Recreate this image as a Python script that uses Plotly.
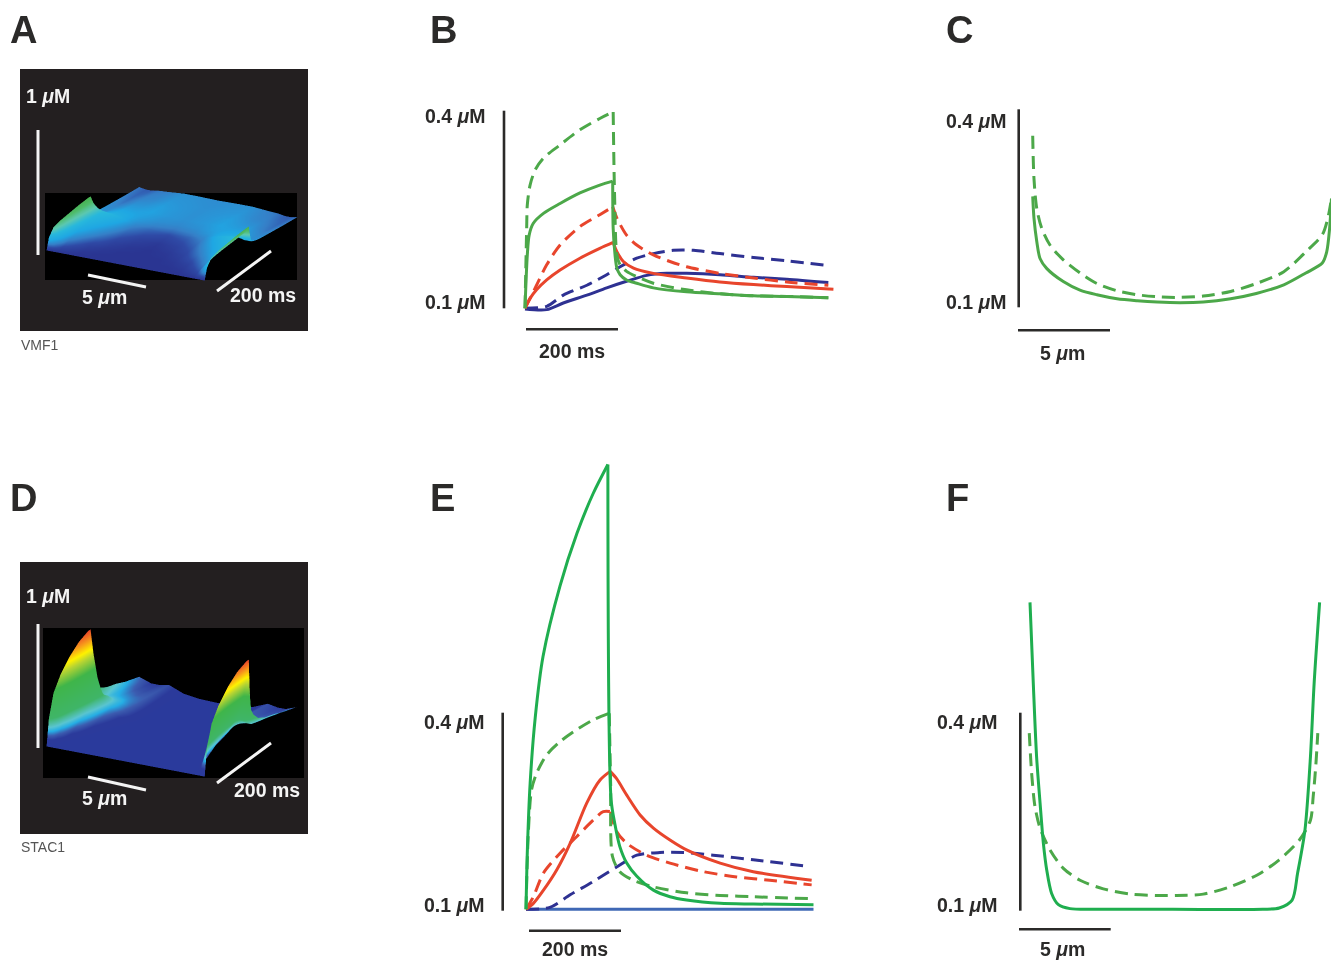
import math
import plotly.graph_objects as go

W, H = 1331, 961
INK = "#2b2a29"
GREEN = "#4ca849"
GREEN_E = "#1fae4f"
RED = "#e8452c"
NAVY = "#2e3192"
ROYAL = "#3f68b5"
DASH = "13px,7px"

# ---------- panel B: concentration (uM) versus time (ms) ----------
b_green_dash_t = [0, 3.6, 5, 11, 22, 40, 76, 119, 162, 191, 194, 199, 206, 220, 242, 278, 350, 422, 495, 567, 657]
b_green_dash_c = [0.1, 0.221, 0.257, 0.287, 0.310, 0.328, 0.348, 0.371, 0.388, 0.398, 0.272, 0.181, 0.166, 0.156, 0.148, 0.138, 0.128, 0.122, 0.119, 0.118, 0.116]
b_green_t = [0, 5, 9, 18, 40, 76, 119, 162, 190, 191, 195, 199, 206, 220, 242, 278, 350, 422, 495, 567, 657]
b_green_c = [0.1, 0.181, 0.211, 0.229, 0.244, 0.259, 0.275, 0.287, 0.293, 0.221, 0.181, 0.161, 0.151, 0.143, 0.138, 0.131, 0.125, 0.122, 0.119, 0.118, 0.116]
b_red_dash_t = [0, 11, 25, 47, 76, 119, 162, 190, 199, 220, 242, 278, 314, 350, 422, 495, 567, 657]
b_red_dash_c = [0.1, 0.115, 0.135, 0.166, 0.196, 0.224, 0.242, 0.254, 0.237, 0.211, 0.196, 0.181, 0.171, 0.163, 0.153, 0.146, 0.140, 0.135]
b_red_t = [0, 11, 25, 47, 76, 119, 162, 191, 199, 213, 235, 278, 350, 422, 495, 567, 668]
b_red_c = [0.1, 0.115, 0.128, 0.143, 0.158, 0.176, 0.191, 0.200, 0.186, 0.171, 0.161, 0.153, 0.146, 0.140, 0.136, 0.133, 0.129]
b_blue_dash_t = [0, 47, 83, 134, 177, 206, 242, 278, 321, 365, 422, 495, 567, 657]
b_blue_dash_c = [0.1, 0.103, 0.120, 0.135, 0.151, 0.163, 0.176, 0.183, 0.188, 0.188, 0.183, 0.177, 0.172, 0.165]
b_blue_t = [0, 47, 83, 134, 177, 220, 264, 307, 350, 422, 495, 567, 657]
b_blue_c = [0.099, 0.098, 0.108, 0.120, 0.131, 0.141, 0.150, 0.153, 0.153, 0.151, 0.147, 0.144, 0.139]

# ---------- panel E ----------
e_green_t = [0, 3, 9, 20, 37, 74, 111, 146, 178, 185, 193, 204, 219, 241, 277, 313, 349, 422, 494, 625]
e_green_c = [0.1, 0.19, 0.291, 0.39, 0.483, 0.59, 0.67, 0.73, 0.774, 0.266, 0.23, 0.195, 0.17, 0.15, 0.129, 0.119, 0.114, 0.109, 0.108, 0.107]
e_green_dash_t = [0, 5, 12, 23, 45, 74, 110, 146, 181, 184, 188, 204, 233, 277, 349, 422, 494, 621]
e_green_dash_c = [0.1, 0.215, 0.281, 0.306, 0.334, 0.354, 0.372, 0.387, 0.397, 0.291, 0.18, 0.157, 0.144, 0.134, 0.125, 0.121, 0.119, 0.116]
e_red_t = [0, 16, 38, 67, 96, 132, 161, 183, 197, 219, 248, 277, 313, 349, 422, 494, 621]
e_red_c = [0.1, 0.109, 0.129, 0.16, 0.2, 0.261, 0.296, 0.309, 0.298, 0.273, 0.243, 0.223, 0.205, 0.19, 0.17, 0.157, 0.144]
e_red_dash_t = [0, 16, 38, 74, 110, 146, 168, 184, 197, 219, 262, 313, 386, 458, 530, 621]
e_red_dash_c = [0.1, 0.119, 0.155, 0.185, 0.21, 0.235, 0.248, 0.248, 0.218, 0.2, 0.182, 0.17, 0.157, 0.149, 0.144, 0.137]
e_blue_dash_t = [0, 52, 96, 146, 204, 241, 291, 342, 407, 494, 614]
e_blue_dash_c = [0.1, 0.103, 0.122, 0.142, 0.167, 0.182, 0.186, 0.186, 0.182, 0.175, 0.165]
e_blue_t = [0, 625]
e_blue_c = [0.1, 0.1]

# ---------- panel C: concentration (uM) versus distance (um) ----------
c_solid_x = [0, 0.07, 0.22, 0.4, 0.76, 1.67, 2.58, 3.5, 4.6, 5.7, 6.8, 8.04, 9.3, 10.8, 12.2, 13.7, 14.9, 15.8, 16.04, 16.2, 16.3]
c_solid_c = [0.268, 0.235, 0.2, 0.174, 0.159, 0.139, 0.126, 0.119, 0.113, 0.11, 0.108, 0.107, 0.108, 0.113, 0.121, 0.134, 0.152, 0.167, 0.184, 0.22, 0.265]
c_dash_x = [0, 0.07, 0.22, 0.49, 0.95, 1.67, 2.58, 3.5, 4.6, 5.7, 6.8, 8.04, 9.3, 10.8, 12.2, 13.7, 14.9, 15.8, 16.1, 16.3]
c_dash_c = [0.36, 0.295, 0.25, 0.22, 0.194, 0.172, 0.152, 0.136, 0.125, 0.119, 0.116, 0.115, 0.117, 0.124, 0.136, 0.154, 0.184, 0.21, 0.235, 0.265]

# ---------- panel F ----------
f_solid_x = [0, 0.18, 0.36, 0.55, 0.73, 0.91, 1.18, 1.55, 2.18, 3.64, 7.8, 12.7, 13.6, 14.3, 14.6, 15, 15.3, 15.5, 15.8]
f_solid_c = [0.565, 0.442, 0.331, 0.261, 0.2, 0.16, 0.124, 0.107, 0.101, 0.1, 0.1, 0.1, 0.102, 0.114, 0.155, 0.22, 0.331, 0.442, 0.565]
f_dash_x = [-0.04, 0.09, 0.27, 0.55, 1.09, 1.82, 2.73, 4, 5.45, 6.9, 8, 9.45, 10.9, 12.4, 13.6, 14.7, 15.3, 15.45, 15.6, 15.7]
f_dash_c = [0.367, 0.306, 0.256, 0.223, 0.19, 0.162, 0.144, 0.131, 0.123, 0.121, 0.121, 0.123, 0.134, 0.152, 0.175, 0.205, 0.235, 0.271, 0.321, 0.367]

# ---------- panels A and D: surfaces over distance (um) and time (ms) ----------
surf_dist_half = [0, 0.3, 0.7, 1.2, 2, 3, 4.5, 6, 8]
surf_time = [0, 10, 30, 60, 100, 140, 180, 190, 195, 200, 210, 230, 260, 300, 340, 400]
vmf1_rows = [
    [.10, .19, .25, .27, .285, .30, .31, .31, .24, .19, .17, .16, .155, .15, .145, .14],
    [.10, .16, .21, .23, .24, .25, .26, .26, .22, .18, .165, .155, .15, .145, .14, .135],
    [.10, .13, .17, .195, .21, .22, .23, .23, .21, .18, .165, .155, .15, .14, .135, .13],
    [.10, .11, .13, .155, .18, .195, .205, .21, .205, .19, .175, .165, .155, .145, .14, .13],
    [.10, .105, .115, .135, .16, .18, .195, .20, .195, .19, .185, .175, .165, .155, .147, .14],
    [.10, .10, .105, .115, .14, .16, .18, .185, .183, .18, .178, .172, .165, .157, .15, .145],
    [.10, .10, .10, .105, .115, .13, .145, .15, .152, .155, .16, .165, .168, .165, .16, .155],
    [.10, .10, .10, .10, .105, .115, .13, .135, .14, .142, .148, .155, .16, .16, .158, .155],
    [.10, .10, .10, .10, .10, .105, .12, .125, .13, .135, .142, .15, .155, .155, .155, .152],
]
stac1_rows = [
    [.10, .31, .49, .60, .70, .77, .81, .81, .52, .40, .35, .30, .27, .25, .22, .19],
    [.10, .23, .36, .46, .54, .59, .62, .62, .44, .34, .30, .27, .25, .23, .21, .18],
    [.10, .13, .20, .28, .35, .40, .43, .44, .38, .30, .27, .24, .225, .21, .19, .17],
    [.10, .105, .13, .16, .22, .27, .31, .31, .30, .295, .28, .24, .215, .195, .175, .155],
    [.10, .10, .105, .115, .14, .17, .20, .21, .215, .22, .225, .225, .205, .185, .17, .155],
    [.10, .10, .10, .102, .11, .125, .145, .15, .16, .165, .175, .182, .186, .183, .178, .17],
    [.10, .10, .10, .10, .10, .102, .105, .107, .11, .112, .115, .118, .12, .122, .122, .122],
    [.10, .10, .10, .10, .10, .10, .10, .10, .10, .102, .102, .103, .104, .105, .105, .105],
    [.10, .10, .10, .10, .10, .10, .10, .10, .10, .10, .10, .10, .10, .10, .10, .10],
]
surf_dist = surf_dist_half + [16 - d for d in surf_dist_half[-2::-1]]


def by_time(rows):
    full = rows + rows[-2::-1]
    return [[full[i][j] for i in range(len(full))] for j in range(len(surf_time))]


VMF1_SCALE = [[0, "#2a3592"], [0.1, "#2f4aa6"], [0.2, "#3580c8"], [0.32, "#1fa7e3"], [0.48, "#28b8dc"],
              [0.62, "#5cc8b0"], [0.78, "#4fbb6a"], [1, "#46ad4a"]]
STAC1_SCALE = [[0, "#2a3a9c"], [0.07, "#2b3a9b"], [0.114, "#3c5cb0"], [0.157, "#25aee5"], [0.2, "#5ac5d0"],
               [0.286, "#3fb568"], [0.57, "#3fb54a"], [0.714, "#b9d532"], [0.786, "#fff200"], [0.886, "#f7941d"],
               [1, "#e8392a"]]


def px(x):
    return x / W


def py(y):
    return 1 - y / H


fig = go.Figure()


def line_axes(n, left, right, top, bottom, x0, xs, y0, ys):
    sx = "" if n == 1 else str(n)
    fig.layout[f"xaxis{sx}"] = dict(domain=[px(left), px(right)], range=[(left - x0) / xs, (right - x0) / xs],
                                    visible=False, anchor=f"y{sx}", fixedrange=True)
    fig.layout[f"yaxis{sx}"] = dict(domain=[py(bottom), py(top)], range=[0.1 + (y0 - bottom) / ys, 0.1 + (y0 - top) / ys],
                                    visible=False, anchor=f"x{sx}", fixedrange=True)
    return f"x{sx}", f"y{sx}", xs, ys


def add(axes, x, y, color, dash=None, width=3):
    """Draw one curve through the axes, smoothing between its sharp corners."""
    xa, ya, xs, ys = axes
    cuts = [0]
    for i in range(1, len(x) - 1):
        a = math.atan2((y[i] - y[i - 1]) * ys, (x[i] - x[i - 1]) * xs)
        b = math.atan2((y[i + 1] - y[i]) * ys, (x[i + 1] - x[i]) * xs)
        if abs(a - b) > math.radians(50):
            cuts.append(i)
    cuts.append(len(x) - 1)
    for s, e in zip(cuts[:-1], cuts[1:]):
        fig.add_trace(go.Scatter(x=x[s:e + 1], y=y[s:e + 1], mode="lines", xaxis=xa, yaxis=ya, showlegend=False,
                                 hoverinfo="skip",
                                 line=dict(color=color, width=width, dash=dash or "solid", shape="spline", smoothing=0.8)))


ax_b = line_axes(1, 495, 845, 100, 335, 525, 0.4617, 308.3, 659)
add(ax_b, b_blue_t, b_blue_c, NAVY)
add(ax_b, b_blue_dash_t, b_blue_dash_c, NAVY, DASH)
add(ax_b, b_red_t, b_red_c, RED)
add(ax_b, b_red_dash_t, b_red_dash_c, RED, DASH)
add(ax_b, b_green_t, b_green_c, GREEN)
add(ax_b, b_green_dash_t, b_green_dash_c, GREEN, DASH)

ax_e = line_axes(2, 495, 845, 460, 935, 526, 0.46, 909.3, 660)
add(ax_e, e_blue_t, e_blue_c, ROYAL)
add(ax_e, e_blue_dash_t, e_blue_dash_c, NAVY, DASH)
add(ax_e, e_red_t, e_red_c, RED)
add(ax_e, e_red_dash_t, e_red_dash_c, RED, DASH)
add(ax_e, e_green_dash_t, e_green_dash_c, GREEN, DASH)
add(ax_e, e_green_t, e_green_c, GREEN_E)

ax_c = line_axes(3, 1022, 1331, 100, 320, 1032.7, 18.33, 307.3, 660)
add(ax_c, c_solid_x, c_solid_c, GREEN)
add(ax_c, c_dash_x, c_dash_c, GREEN, DASH)

ax_f = line_axes(4, 1022, 1331, 595, 920, 1030, 18.33, 909.3, 660)
add(ax_f, f_dash_x, f_dash_c, GREEN, DASH)
add(ax_f, f_solid_x, f_solid_c, GREEN_E)


def surface(name, rows, scale, cmax, cx, cy):
    half = 140
    fig.add_trace(go.Surface(x=surf_dist, y=surf_time, z=by_time(rows), scene=name, colorscale=scale, cmin=0.1, cmax=cmax,
                             showscale=False, hoverinfo="skip",
                             lighting=dict(ambient=1, diffuse=0, specular=0, fresnel=0, roughness=1)))
    hidden = dict(visible=False, showspikes=False)
    fig.layout[name] = dict(
        domain=dict(x=[px(cx - half), px(cx + half)], y=[py(cy + half), py(cy - half)]),
        bgcolor="rgba(0,0,0,0)",
        xaxis=dict(range=[0, 16], **hidden), yaxis=dict(range=[0, 400], **hidden), zaxis=dict(range=[0, 1], **hidden),
        aspectmode="manual", aspectratio=dict(x=1.29, y=1.375, z=0.958),
        camera=dict(projection=dict(type="orthographic"), up=dict(x=0, y=0, z=1),
                    eye=dict(x=0.452 * 3.2, y=-0.822 * 3.2, z=0.347 * 3.2)),
    )


surface("scene", vmf1_rows, VMF1_SCALE, 0.32, 172, 186)
surface("scene2", stac1_rows, STAC1_SCALE, 0.82, 172, 682)

shapes = []


def rect(x0, y0, x1, y1, color):
    shapes.append(dict(type="rect", xref="paper", yref="paper", x0=px(x0), x1=px(x1), y0=py(y1), y1=py(y0),
                       fillcolor=color, line=dict(width=0), layer="below"))


def bar(x0, y0, x1, y1, color=INK, width=2.6):
    shapes.append(dict(type="line", xref="paper", yref="paper", x0=px(x0), x1=px(x1), y0=py(y0), y1=py(y1),
                       line=dict(color=color, width=width), layer="below"))


rect(20, 69, 308, 331, "#231f20")
rect(45, 193, 297, 280, "#000000")
rect(20, 562, 308, 834, "#231f20")
rect(43, 628, 304, 778, "#000000")
for seg in [(38, 130, 38, 255), (88, 275, 146, 287), (217, 291, 271, 251),
            (38, 624, 38, 748), (88, 777, 146, 790), (217, 783, 271, 743)]:
    bar(*seg, color="#f4f4f4", width=3)
for seg in [(504, 110.7, 504, 308.3), (526, 329.3, 618, 329.3),
            (502.7, 712.7, 502.7, 910.7), (529, 930.7, 621, 930.7),
            (1018.7, 109.3, 1018.7, 307.3), (1018, 330.3, 1110, 330.3),
            (1020.3, 712.7, 1020.3, 910.7), (1019, 929.3, 1110.7, 929.3)]:
    bar(*seg)

notes = []


def note(text, x, y, size=19.5, color=INK, anchor="center"):
    nudge = {"left": -2, "right": 2, "center": 0}[anchor]
    notes.append(dict(text=text, x=px(x + nudge), y=py(y), xref="paper", yref="paper", showarrow=False, xanchor=anchor,
                      yanchor="middle", font=dict(family="Liberation Sans", size=size, color=color)))


for letter, x, y in [("A", 10, 30), ("B", 430, 30), ("C", 946, 30), ("D", 10, 498), ("E", 430, 498), ("F", 946, 498)]:
    note(f"<b>{letter}</b>", x, y, size=38, anchor="left")
UM = "<b>{} <i>μ</i>M</b>"
for x, y, v in [(486, 116, "0.4"), (486, 302, "0.1"), (1007, 121, "0.4"), (1007, 302, "0.1"),
                (485, 722, "0.4"), (485, 905, "0.1"), (998, 722, "0.4"), (998, 905, "0.1")]:
    note(UM.format(v), x, y, anchor="right")
note("<b>200 ms</b>", 572, 351)
note("<b>200 ms</b>", 575, 949)
note("<b>5 <i>μ</i>m</b>", 1062, 353)
note("<b>5 <i>μ</i>m</b>", 1062, 949)
note(UM.format("1"), 26, 96, color="#f4f4f4", anchor="left")
note(UM.format("1"), 26, 596, color="#f4f4f4", anchor="left")
note("<b>5 <i>μ</i>m</b>", 104, 297, color="#f4f4f4")
note("<b>5 <i>μ</i>m</b>", 104, 798, color="#f4f4f4")
note("<b>200 ms</b>", 263, 295, color="#f4f4f4")
note("<b>200 ms</b>", 267, 790, color="#f4f4f4")
note("VMF1", 21, 345, size=14, color="#555555", anchor="left")
note("STAC1", 21, 847, size=14, color="#555555", anchor="left")

fig.update_layout(width=W, height=H, margin=dict(l=0, r=0, t=0, b=0), paper_bgcolor="white", plot_bgcolor="rgba(0,0,0,0)",
                  showlegend=False, shapes=shapes, annotations=notes)
fig.write_html("out.html", config=dict(displayModeBar=False),
               post_script="document.body.style.margin='0';document.body.style.overflow='hidden';")
